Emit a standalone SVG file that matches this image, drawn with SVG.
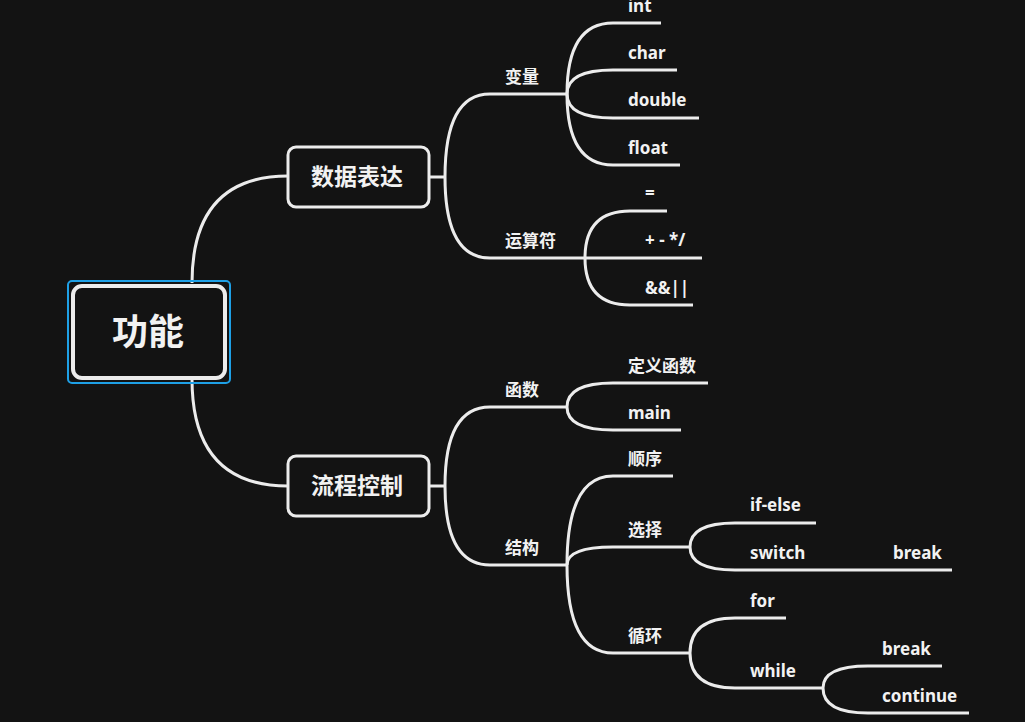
<svg xmlns="http://www.w3.org/2000/svg" width="1025" height="722" viewBox="0 0 1025 722">
<style>
.c{fill:none;stroke:#ececec;stroke-width:3;stroke-linecap:butt}
.t{font-family:"Noto Sans","Open Sans","Noto Sans CJK SC",sans-serif;font-weight:700;fill:#f2f2f2;font-size:17px}
.l1{font-size:23px;text-anchor:middle}
.r{font-size:36px;text-anchor:middle}
.box{fill:#131313;stroke:#ececec;stroke-width:3}
</style>
<rect width="1025" height="722" fill="#131313"/>
<g id="connectors">
<path class="c" d="M192,283 Q192,176 288,176"/>
<path class="c" d="M192,379 Q192,486 288,486"/>
<path class="c" d="M429,177 H445"/>
<path class="c" d="M429,486 H445"/>
<path class="c" d="M445,177 Q445,94 490,94 H567"/>
<path class="c" d="M445,177 Q445,258 490,258 H585"/>
<path class="c" d="M567,94 Q567,23 613,23 H661"/>
<path class="c" d="M567,94 Q567,70 613,70 H677"/>
<path class="c" d="M567,94 Q567,118 613,118 H699"/>
<path class="c" d="M567,94 Q567,165 613,165 H680"/>
<path class="c" d="M585,258 Q585,211 630,211 H667"/>
<path class="c" d="M585,258 H702"/>
<path class="c" d="M585,258 Q585,305 630,305 H693"/>
<path class="c" d="M445,486 Q445,407 490,407 H567"/>
<path class="c" d="M445,486 Q445,565 490,565 H567"/>
<path class="c" d="M567,407 Q567,383 613,383 H708"/>
<path class="c" d="M567,407 Q567,430 613,430 H681"/>
<path class="c" d="M567,565 Q567,476 613,476 H673"/>
<path class="c" d="M567,565 Q567,547 613,547 H690"/>
<path class="c" d="M567,565 Q567,653 613,653 H690"/>
<path class="c" d="M690,547 Q690,523 735,523 H816"/>
<path class="c" d="M690,547 Q690,570 735,570 H952"/>
<path class="c" d="M690,653 Q690,618 735,618 H786"/>
<path class="c" d="M690,653 Q690,688 735,688 H823"/>
<path class="c" d="M823,688 Q823,666 868,666 H942"/>
<path class="c" d="M823,688 Q823,713 868,713 H969"/>
</g>
<g id="root">
<rect x="68" y="281" width="162" height="102" rx="4" fill="none" stroke="#1ea0e6" stroke-width="2"/>
<rect x="73" y="286" width="152" height="92" rx="9" fill="#131313" stroke="#ececec" stroke-width="4"/>
<text class="t r" x="148" y="345">功能</text>
</g>
<g id="n-shuju">
<rect class="box" x="288" y="147" width="141" height="60" rx="8"/>
<text class="t l1" x="357" y="185">数据表达</text>
</g>
<g id="n-liucheng">
<rect class="box" x="288" y="456" width="141" height="60" rx="8"/>
<text class="t l1" x="357" y="494">流程控制</text>
</g>
<g id="n-bianliang"><text class="t" x="505" y="83">变量</text></g>
<g id="n-int"><text class="t" x="628" y="12">int</text></g>
<g id="n-char"><text class="t" x="628" y="59">char</text></g>
<g id="n-double"><text class="t" x="628" y="106">double</text></g>
<g id="n-float"><text class="t" x="628" y="154">float</text></g>
<g id="n-yunsuanfu"><text class="t" x="505" y="247">运算符</text></g>
<g id="n-eq"><text class="t" x="645" y="199">=</text></g>
<g id="n-arith"><text class="t" x="645" y="246">+ - */</text></g>
<g id="n-logic"><text class="t" x="645" y="294">&amp;&amp;||</text></g>
<g id="n-hanshu"><text class="t" x="505" y="396">函数</text></g>
<g id="n-dingyi"><text class="t" x="628" y="372">定义函数</text></g>
<g id="n-main"><text class="t" x="628" y="419">main</text></g>
<g id="n-jiegou"><text class="t" x="505" y="554">结构</text></g>
<g id="n-shunxu"><text class="t" x="628" y="465">顺序</text></g>
<g id="n-xuanze"><text class="t" x="628" y="536">选择</text></g>
<g id="n-xunhuan"><text class="t" x="628" y="642">循环</text></g>
<g id="n-ifelse"><text class="t" x="750" y="511">if-else</text></g>
<g id="n-switch"><text class="t" x="750" y="559">switch</text></g>
<g id="n-break1"><text class="t" x="893" y="559">break</text></g>
<g id="n-for"><text class="t" x="750" y="607">for</text></g>
<g id="n-while"><text class="t" x="750" y="677">while</text></g>
<g id="n-break2"><text class="t" x="882" y="655">break</text></g>
<g id="n-continue"><text class="t" x="882" y="702">continue</text></g>
</svg>
